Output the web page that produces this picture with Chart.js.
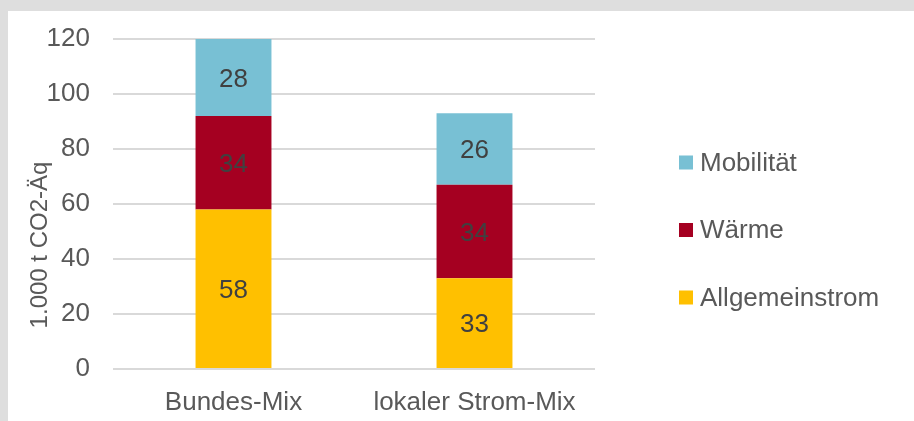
<!DOCTYPE html>
<html>
<head>
<meta charset="utf-8">
<script src="https://cdn.jsdelivr.net/npm/chart.js@4.4.1/dist/chart.umd.min.js"></script>
<style>
  html, body { margin: 0; padding: 0; background: #dedede; width: 914px; height: 421px; overflow: hidden; }
  #wrap { position: absolute; left: 8px; top: 11px; width: 906px; height: 410px; background: #fff; }
</style>
</head>
<body>
<div id="wrap"><canvas id="co2-chart"></canvas></div>
<script>
const categories = ['Bundes-Mix', 'lokaler Strom-Mix'];
const allgemeinstrom = [58, 33];
const waerme = [34, 34];
const mobilitaet = [28, 26];
const yTicks = [0, 20, 40, 60, 80, 100, 120];

const textColor = '#595959';
const fontFamily = '"Liberation Sans", Arial, sans-serif';

// values in the middle of each bar segment
const segmentLabels = {
    id: 'segmentLabels',
    afterDatasetsDraw(chart) {
        const ctx = chart.ctx;
        ctx.save();
        ctx.font = '26px ' + fontFamily;
        ctx.fillStyle = '#404040';
        ctx.textAlign = 'center';
        ctx.textBaseline = 'middle';
        chart.data.datasets.forEach((ds, i) => {
            chart.getDatasetMeta(i).data.forEach((bar, j) => {
                ctx.fillText(ds.data[j], bar.x, (bar.y + bar.base) / 2 + 2);
            });
        });
        ctx.restore();
    }
};

// y axis title, placed a bit lower than the plot centre like in the original
const yTitle = {
    id: 'yTitle',
    afterDraw(chart) {
        const ctx = chart.ctx;
        ctx.save();
        ctx.translate(32, 234);
        ctx.rotate(-Math.PI / 2);
        ctx.font = '24px ' + fontFamily;
        ctx.fillStyle = textColor;
        ctx.textAlign = 'center';
        ctx.textBaseline = 'middle';
        ctx.fillText('1.000 t CO2-Äq', 0, 0);
        ctx.restore();
    }
};

// the built-in legend gets capped at a quarter of the width, so draw it here
const sideLegend = {
    id: 'sideLegend',
    afterDraw(chart) {
        const ctx = chart.ctx;
        const x = 671;
        const gap = 67.5;
        const mid = 219;
        const items = chart.data.datasets.slice().reverse();
        ctx.save();
        ctx.font = '26px ' + fontFamily;
        ctx.textAlign = 'left';
        ctx.textBaseline = 'middle';
        items.forEach((ds, i) => {
            const y = mid + (i - (items.length - 1) / 2) * gap;
            ctx.fillStyle = ds.backgroundColor;
            ctx.fillRect(x, y - 7, 14, 14);
            ctx.fillStyle = textColor;
            ctx.fillText(ds.label, x + 21, y + 1);
        });
        ctx.restore();
    }
};

new Chart(document.getElementById('co2-chart'), {
    type: 'bar',
    data: {
        labels: categories,
        datasets: [
            { label: 'Allgemeinstrom', data: allgemeinstrom, backgroundColor: '#FFC000' },
            { label: 'Wärme', data: waerme, backgroundColor: '#A50021' },
            { label: 'Mobilität', data: mobilitaet, backgroundColor: '#78C0D4' }
        ]
    },
    options: {
        responsive: true,
        maintainAspectRatio: false,
        animation: false,
        datasets: {
            bar: { barPercentage: 1, categoryPercentage: 0.315 }
        },
        layout: {
            padding: { left: 40, top: 28, right: 319, bottom: 0 }
        },
        scales: {
            x: {
                stacked: true,
                afterFit: (scale) => { scale.height = 52; },
                grid: { display: false, drawTicks: false },
                border: { display: false },
                ticks: {
                    color: textColor,
                    padding: 18,
                    maxRotation: 0,
                    font: { family: fontFamily, size: 26 }
                }
            },
            y: {
                stacked: true,
                min: yTicks[0],
                max: yTicks[yTicks.length - 1],
                afterBuildTicks: (scale) => { scale.ticks = yTicks.map(v => ({ value: v })); },
                afterFit: (scale) => {
                    scale.width = 65;
                    scale.paddingTop = 0;
                    scale.paddingBottom = 0;
                },
                grid: { color: '#d9d9d9', lineWidth: 2, drawTicks: false },
                border: { display: false },
                ticks: {
                    color: textColor,
                    padding: 23,
                    font: { family: fontFamily, size: 26 }
                }
            }
        },
        plugins: {
            legend: { display: false },
            tooltip: { enabled: false }
        }
    },
    plugins: [segmentLabels, yTitle, sideLegend]
});
</script>
</body>
</html>
